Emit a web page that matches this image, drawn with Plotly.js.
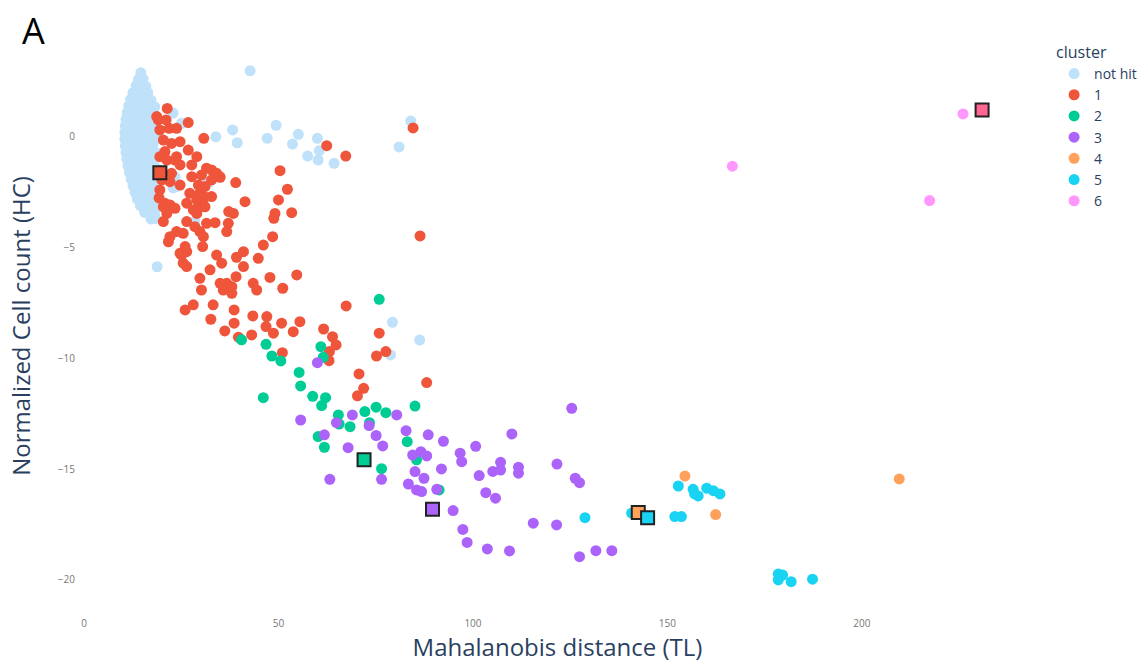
<!DOCTYPE html>
<html>
<head>
<meta charset="utf-8">
<script src="https://cdn.plot.ly/plotly-3.0.1.min.js"></script>
<style>html,body{margin:0;padding:0;background:#fff;}#chart{width:1146px;height:664px;}</style>
</head>
<body>
<div id="chart"></div>
<script>
// ---- data ----
const clusterNames = ["not hit", "1", "2", "3", "4", "5", "6"];

const notHitX = [
  14.6,
  14.0, 15.2,
  13.4, 14.6, 15.9,
  12.6, 13.9, 15.3, 16.4,
  12.0, 13.4, 14.8, 16.0, 17.2,
  11.5, 12.9, 14.4, 15.7, 17.0, 18.2,
  11.1, 12.6, 14.1, 15.4, 16.7, 17.9,
  10.8, 12.3, 13.9, 15.2, 16.5, 17.8,
  10.6, 12.1, 13.7, 15.0, 16.3, 17.6,
  10.5, 12.0, 13.6, 14.9, 16.2, 17.5, 18.6,
  10.5, 12.0, 13.5, 14.8, 16.1, 17.4, 18.5,
  10.6, 12.1, 13.7, 15.0, 16.3, 17.6,
  10.8, 12.3, 13.8, 15.1, 16.4, 17.7, 18.8,
  11.0, 12.5, 14.0, 15.3, 16.6, 17.9,
  11.3, 12.8, 14.2, 15.5, 16.8, 18.1,
  11.7, 13.1, 14.5, 15.8, 17.1, 18.3,
  12.1, 13.5, 14.8, 16.1, 17.4, 18.5,
  12.6, 13.9, 15.2, 16.5, 17.8,
  13.1, 14.4, 15.7, 17.0, 18.2,
  13.7, 15.0, 16.3, 17.6,
  14.5, 15.8, 17.1, 18.3,
  15.6, 16.9, 18.1,
  17.2, 18.4,
  42.7, 25.1, 33.9, 38.2, 39.4, 49.4, 47.1, 55.1, 53.6, 60.0, 60.5, 57.5, 60.2, 64.3,
  18.8, 32.0, 28.5, 23.8, 81.0, 84.0, 79.3, 86.3, 78.8, 22.9, 22.9, 23.4
];
const notHitY = [
  2.90,
  2.60, 2.62,
  2.32, 2.30, 2.28,
  2.00, 2.02, 1.98, 2.00,
  1.70, 1.72, 1.68, 1.70, 1.66,
  1.40, 1.42, 1.38, 1.40, 1.41, 1.36,
  1.10, 1.12, 1.08, 1.10, 1.11, 1.07,
  0.80, 0.82, 0.78, 0.80, 0.81, 0.79,
  0.50, 0.52, 0.48, 0.50, 0.51, 0.49,
  0.20, 0.22, 0.18, 0.20, 0.21, 0.19, 0.18,
  -0.10, -0.08, -0.12, -0.10, -0.09, -0.11, -0.12,
  -0.40, -0.38, -0.42, -0.40, -0.39, -0.41,
  -0.70, -0.68, -0.72, -0.70, -0.69, -0.71, -0.72,
  -1.00, -0.98, -1.02, -1.00, -0.99, -1.01,
  -1.30, -1.28, -1.32, -1.30, -1.29, -1.31,
  -1.60, -1.58, -1.62, -1.60, -1.59, -1.61,
  -1.90, -1.88, -1.92, -1.90, -1.89, -1.91,
  -2.20, -2.18, -2.22, -2.20, -2.19,
  -2.50, -2.48, -2.52, -2.50, -2.49,
  -2.80, -2.78, -2.82, -2.80,
  -3.10, -3.08, -3.12, -3.10,
  -3.40, -3.38, -3.42,
  -3.70, -3.68,
  2.99, 0.62, 0.01, 0.32, -0.26, 0.53, -0.06, 0.12, -0.32, -0.06, -0.62, -0.86, -1.04, -1.19,
  -5.86, -2.06, -3.80, -2.24, -0.45, 0.72, -8.37, -9.17, -9.84, 1.08, -2.30, -1.80
];

const c1X = [21.4,19.1,21.1,19.5,21.9,23.8,26.8,30.8,20.4,22.5,24.7,26.8,20.8,23.8,29.0,24.7,27.7,31.5,32.8,35.0,
  39.0,24.7,29.4,31.1,27.2,32.8,29.0,41.4,50.4,52.3,50.0,49.1,48.8,53.4,38.4,37.1,36.7,33.7,31.5,26.4,
  20.4,22.1,23.4,20.4,29.8,29.0,31.1,23.8,25.5,29.8,30.7,21.7,22.1,24.7,26.4,26.0,30.5,34.1,35.4,39.2,
  41.0,44.8,46.1,48.5,41.0,39.1,36.7,38.0,35.0,32.4,29.8,26.4,25.5,30.2,35.8,43.5,44.4,47.8,51.1,54.7,
  62.4,67.3,19.5,20.0,22.1,22.5,21.3,18.7,23.4,29.8,19.5,34.1,27.7,30.2,32.8,34.9,31.1,20.8,21.3,26.4,
  28.1,28.5,25.1,37.2,19.3,84.6,86.4,
  28.1,26.0,33.2,38.6,43.4,47.0,50.8,55.5,32.6,36.2,38.6,39.7,43.1,46.8,48.7,53.8,51.0,61.6,63.9,64.8,
  63.1,63.0,67.4,75.9,75.2,77.6,88.1,70.7,71.9,70.3,38.0,35.8];
const c1Y = [1.29,0.77,0.77,0.32,0.39,0.39,0.65,-0.06,-0.14,-0.29,-0.21,-0.59,-0.66,-0.89,-0.89,-1.26,-1.26,-1.41,-1.49,-1.82,
  -2.06,-2.17,-2.17,-2.24,-2.54,-2.69,-2.84,-2.92,-1.52,-2.36,-2.84,-3.45,-3.67,-3.42,-3.45,-3.90,-4.27,-3.87,-3.90,-3.82,
  -3.15,-3.07,-3.22,-3.82,-3.15,-3.45,-3.15,-4.27,-4.35,-4.27,-4.50,-4.73,-4.50,-5.25,-5.18,-4.95,-4.95,-5.33,-5.70,-5.43,
  -5.18,-5.48,-4.88,-4.50,-5.85,-6.31,-6.61,-6.76,-6.61,-6.00,-6.38,-5.85,-5.70,-6.91,-6.91,-6.61,-6.91,-6.34,-6.83,-6.23,
  -0.39,-0.86,-2.39,-1.94,-2.02,-1.64,-1.04,0.92,-1.04,-2.54,-0.89,-1.64,-1.79,-1.72,-1.94,-1.79,-2.71,-2.99,-3.45,-2.99,
  -3.29,-4.05,-5.33,-3.37,-2.75,0.41,-4.47,
  -7.58,-7.81,-7.58,-7.81,-8.08,-8.11,-8.41,-8.34,-8.23,-8.76,-8.41,-9.04,-8.94,-8.56,-8.86,-8.79,-9.74,-8.67,-9.02,-9.39,
  -9.69,-10.10,-7.63,-8.86,-9.89,-9.69,-11.09,-10.70,-11.35,-11.69,-7.06,-6.76];

const c2X = [75.9,40.5,46.8,48.3,50.6,55.3,55.7,46.1,60.9,61.5,58.8,62.1,61.1,65.4,72.2,75.1,77.6,85.1,68.4,65.6,
  60.2,61.8,76.5,83.1,73.4,85.5,91.3];
const c2Y = [-7.33,-9.16,-9.36,-9.89,-10.11,-10.63,-11.24,-11.77,-9.47,-9.95,-11.71,-11.77,-12.13,-12.55,-12.40,-12.20,-12.45,-12.15,-13.08,-12.96,
  -13.53,-14.01,-14.98,-13.76,-12.90,-14.58,-15.94];

const c3X = [60.0,55.7,64.9,69.0,73.3,80.4,82.8,88.5,61.8,67.9,75.1,76.8,63.2,76.5,84.5,86.6,88.1,85.1,87.4,83.4,
  85.5,86.8,90.7,92.4,91.9,96.7,97.1,100.7,101.6,105.1,107.1,107.1,111.7,111.7,110.0,103.3,105.8,94.9,97.4,98.5,
  103.7,109.4,115.5,121.5,121.6,125.4,126.3,127.4,127.4,131.6,135.7];
const c3Y = [-10.19,-12.78,-12.90,-12.55,-13.03,-12.55,-13.26,-13.45,-13.45,-14.03,-13.48,-13.95,-15.46,-15.46,-14.36,-14.21,-14.40,-15.11,-15.41,-15.67,
  -15.94,-16.01,-15.91,-13.74,-14.99,-14.28,-14.66,-13.97,-15.29,-15.10,-14.69,-15.04,-14.91,-15.18,-13.41,-16.06,-16.31,-16.87,-17.72,-18.31,
  -18.60,-18.69,-17.44,-17.52,-14.77,-12.25,-15.41,-15.61,-18.95,-18.68,-18.68];

const c4X = [154.5, 162.4, 209.6];
const c4Y = [-15.31, -17.05, -15.44];

const c5X = [128.8,140.8,152.8,156.6,157.0,157.9,160.1,161.8,163.5,151.9,153.6,178.5,179.6,178.5,181.8,187.3];
const c5Y = [-17.19,-16.99,-15.76,-15.91,-16.12,-16.21,-15.86,-15.97,-16.12,-17.14,-17.14,-19.73,-19.78,-20.00,-20.08,-19.97];

const c6X = [226.0, 166.7, 217.4];
const c6Y = [1.04, -1.32, -2.87];

// highlighted representative points (squares)
const repX = [19.5, 72.0, 89.6, 142.5, 144.9, 230.9];
const repY = [-1.61, -14.58, -16.81, -16.96, -17.19, 1.22];

const xTicks = [0, 50, 100, 150, 200];
const yTicks = [0, -5, -10, -15, -20];

// ---- styling ----
const colors = ["#bfe1f9", "#EF553B", "#00CC96", "#AB63FA", "#FFA15A", "#19D3F3", "#FF97FF"];
const repColors = ["#EF553B", "#00CC96", "#AB63FA", "#FFA15A", "#19D3F3", "#FF6692"];

const xs = [notHitX, c1X, c2X, c3X, c4X, c5X, c6X];
const ys = [notHitY, c1Y, c2Y, c3Y, c4Y, c5Y, c6Y];

const traces = clusterNames.map((name, i) => ({
  type: "scatter", mode: "markers", name: name,
  x: xs[i], y: ys[i],
  marker: {color: colors[i], size: 11, line: {width: 0}}
}));

repX.forEach((x, i) => {
  traces.push({
    type: "scatter", mode: "markers", showlegend: false,
    x: [x], y: [repY[i]],
    marker: {color: repColors[i], size: 13, symbol: "square", line: {color: "#222", width: 2}}
  });
});

const fontFam = '"Open Sans", verdana, arial, sans-serif';
const layout = {
  width: 1146, height: 664,
  margin: {l: 80, r: 111, t: 40, b: 52, autoexpand: false},
  paper_bgcolor: "#fff", plot_bgcolor: "#fff",
  font: {family: fontFam, color: "#2a3f5f"},
  xaxis: {
    range: [-1.03, 244.5], showgrid: false, zeroline: false, showline: false,
    tickvals: xTicks, ticktext: xTicks.map(String),
    tickfont: {size: 10, color: "#777"},
    ticklabelstandoff: 4,
    title: {text: "Mahalanobis distance (TL)", font: {size: 24, color: "#2a3f5f"}, standoff: 8},
    automargin: false
  },
  yaxis: {
    range: [-21.45, 4.38], showgrid: false, zeroline: false, showline: false,
    tickvals: yTicks, ticktext: yTicks.map(v => v < 0 ? "\u2212" + Math.abs(v) : String(v)),
    tickfont: {size: 10, color: "#777"},
    ticklabelstandoff: 4,
    title: {text: "Normalized Cell count (HC)", font: {size: 24, color: "#2a3f5f"}, standoff: 20},
    automargin: false
  },
  legend: {
    x: 1.02, y: 1.005, xanchor: "left", yanchor: "top",
    title: {text: "cluster", font: {size: 16, color: "#2a3f5f"}},
    font: {size: 14, color: "#2a3f5f"}
  },
  annotations: [{
    text: "A", xref: "paper", yref: "paper", x: -0.049, y: 1.017,
    xanchor: "center", yanchor: "middle", showarrow: false,
    font: {size: 36, color: "#000", family: fontFam}
  }],
  showlegend: true
};

Plotly.newPlot("chart", traces, layout, {displayModeBar: false, staticPlot: true});
</script>
</body>
</html>
